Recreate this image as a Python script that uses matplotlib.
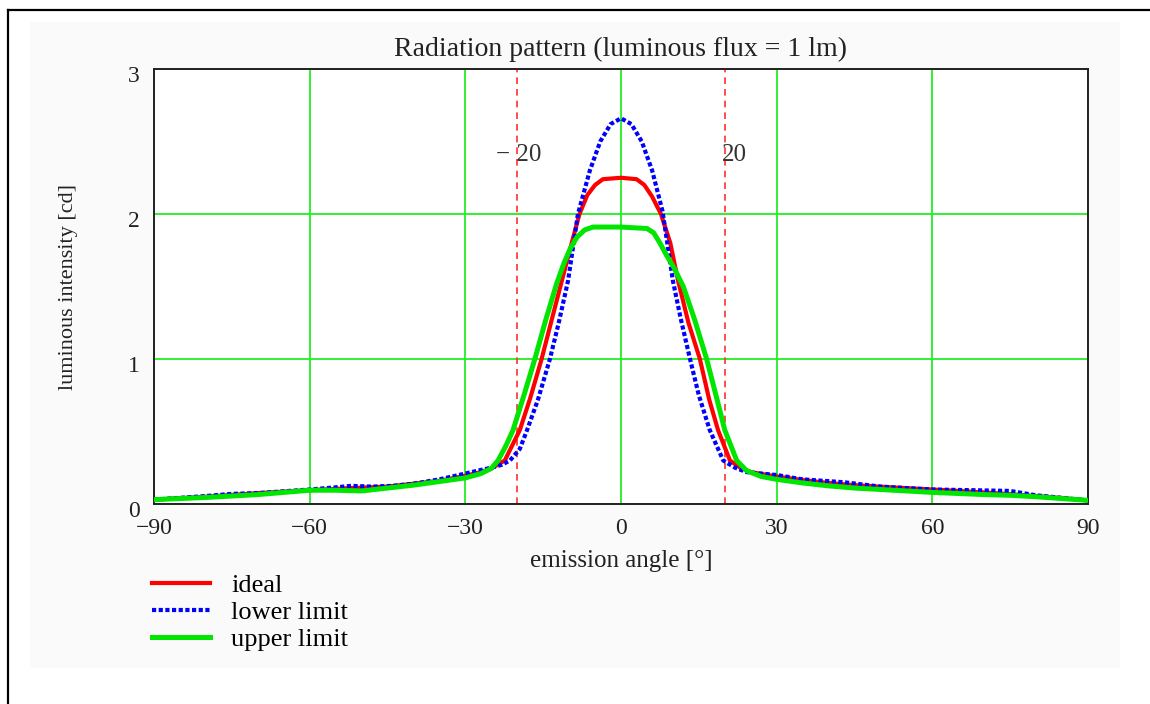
import numpy as np
import matplotlib.pyplot as plt
from matplotlib.lines import Line2D
from matplotlib.patches import Rectangle
from matplotlib.transforms import ScaledTranslation

plt.rcParams['font.family'] = ['Liberation Serif', 'DejaVu Serif']

# Radiation pattern values (angle in deg, intensity in cd)
ideal_angle = [-90, -80, -70, -60, -52, -45, -40, -35, -30, -27, -25, -22.4, -19.5, -17.5,
               -15.3, -13.5, -11.4, -9.5, -8, -6.5, -5, -3.5, 0, 3, 4.5, 6, 7.7, 9.5, 11,
               13, 15.2, 17, 18.7, 21, 23, 25, 30, 35, 40, 45, 52, 60, 70, 80, 90]
ideal_cd = [0.03, 0.05, 0.075, 0.095, 0.11, 0.12, 0.14, 0.16, 0.195, 0.22, 0.245, 0.30, 0.51, 0.73,
            1.0, 1.25, 1.54, 1.8, 2.0, 2.13, 2.2, 2.24, 2.25, 2.24, 2.2, 2.12, 2.0, 1.8, 1.54,
            1.25, 1.0, 0.72, 0.51, 0.30, 0.25, 0.22, 0.19, 0.165, 0.145, 0.13, 0.115, 0.10, 0.08, 0.055, 0.025]

lower_angle = [-90, -80, -75, -70, -60, -55, -52, -48, -44, -40, -35, -30, -27, -25, -23, -21.4,
               -19.5, -18.1, -16, -13.7, -12, -10.2, -8.3, -6, -4, -2, 0, 2, 4, 6, 8, 10, 11.5,
               13.3, 15, 17.1, 19.7, 22, 24.2, 27, 30, 35, 43, 50, 60, 68, 75, 80, 90]
lower_cd = [0.03, 0.055, 0.07, 0.075, 0.10, 0.115, 0.125, 0.12, 0.125, 0.14, 0.17, 0.21, 0.235, 0.25, 0.27, 0.30,
            0.38, 0.51, 0.72, 1.0, 1.25, 1.54, 2.0, 2.3, 2.5, 2.62, 2.66, 2.62, 2.5, 2.3, 2.02, 1.54, 1.28,
            1.0, 0.75, 0.51, 0.30, 0.25, 0.22, 0.21, 0.20, 0.17, 0.15, 0.12, 0.10, 0.095, 0.09, 0.06, 0.025]

upper_angle = [-90, -80, -70, -60, -55, -50, -45, -40, -35, -30, -27, -25, -23.7, -22.2, -20.8,
               -18.7, -16.6, -14.5, -12.4, -11, -9.8, -8.5, -7, -5.4, 0, 5, 6.3, 7.5, 8.7, 10.2, 12, 14.2,
               16.5, 18.3, 20, 22.3, 24.2, 27, 30, 35, 40, 45, 50, 60, 70, 75, 80, 90]
upper_cd = [0.03, 0.045, 0.065, 0.095, 0.095, 0.09, 0.11, 0.13, 0.155, 0.18, 0.21, 0.245, 0.30, 0.40, 0.51,
            0.75, 1.0, 1.27, 1.52, 1.66, 1.76, 1.84, 1.89, 1.91, 1.91, 1.90, 1.87, 1.8, 1.72, 1.63, 1.50, 1.27,
            1.0, 0.75, 0.51, 0.30, 0.23, 0.19, 0.17, 0.145, 0.125, 0.11, 0.10, 0.08, 0.065, 0.06, 0.05, 0.025]

angle_ticks = [-90, -60, -30, 0, 30, 60, 90]
cd_ticks = [0, 1, 2, 3]
marker_angles = [-20, 20]

fig = plt.figure(figsize=(11.5, 7.04), dpi=100)

# light panel and the cut-off outer frame
fig.add_artist(Rectangle((30/1150, 1-668/704), 1090/1150, 646/704, transform=fig.transFigure,
                         facecolor='#fafafa', edgecolor='none', zorder=-2))
fig.add_artist(Line2D([8/1150, 8/1150], [0, 1-10/704], transform=fig.transFigure, color='black', lw=1.6))
fig.add_artist(Line2D([8/1150, 1], [1-10/704, 1-10/704], transform=fig.transFigure, color='black', lw=1.6))

ax = fig.add_axes([154/1150, 1-504/704, 934/1150, 435/704])
ax.set_facecolor('white')

ax.plot(ideal_angle, ideal_cd, color='#ff0000', lw=3.0, label='ideal', zorder=3)
ax.plot(lower_angle, lower_cd, color='#0000ff', lw=3.0, ls=(0, (1, 0.6)), label='lower limit', zorder=4)
ax.plot(upper_angle, upper_cd, color='#00e600', lw=3.6, label='upper limit', zorder=5)

for a in marker_angles:
    ax.axvline(a, color='#ff3030', lw=1.2, ls=(0, (4, 3)), zorder=2)
ax.text(-19.8, 2.41, '\u2212 20', fontsize=18, color='#333333', ha='center', va='center')
ax.text(21.8, 2.41, '20', fontsize=18, color='#333333', ha='center', va='center')

ax.set_xlim(-90, 90)
ax.set_ylim(0, 3)
ax.set_xticks(angle_ticks)
ax.set_yticks(cd_ticks)
ax.set_xticklabels([str(t).replace('-', '\u2212') for t in angle_ticks])
ax.grid(True, color='#22ee22', lw=1.3, zorder=1)
ax.set_axisbelow(True)
ax.tick_params(length=0, labelsize=17, labelcolor='#222222')
ax.tick_params(axis='x', pad=10)
ax.tick_params(axis='y', pad=10)
for lab in ax.get_yticklabels():
    lab.set_transform(lab.get_transform() + ScaledTranslation(0, -0.05, fig.dpi_scale_trans))
for sp in ax.spines.values():
    sp.set_linewidth(1.4)
    sp.set_color('#222222')

ax.set_title('Radiation pattern (luminous flux = 1 lm)', fontsize=20, color='#222222', pad=9)
ax.set_xlabel('emission angle [\u00b0]', fontsize=18, color='#222222', labelpad=8)
ax.set_ylabel('luminous intensity [cd]', fontsize=16, color='#222222', labelpad=36)

fig.legend(loc='upper left', bbox_to_anchor=(152/1150, 1-574/704), frameon=False, fontsize=19,
           handlelength=2.2, handletextpad=0.8, labelspacing=0.12, borderpad=0, borderaxespad=0)

fig.savefig('out.png', dpi=100)
